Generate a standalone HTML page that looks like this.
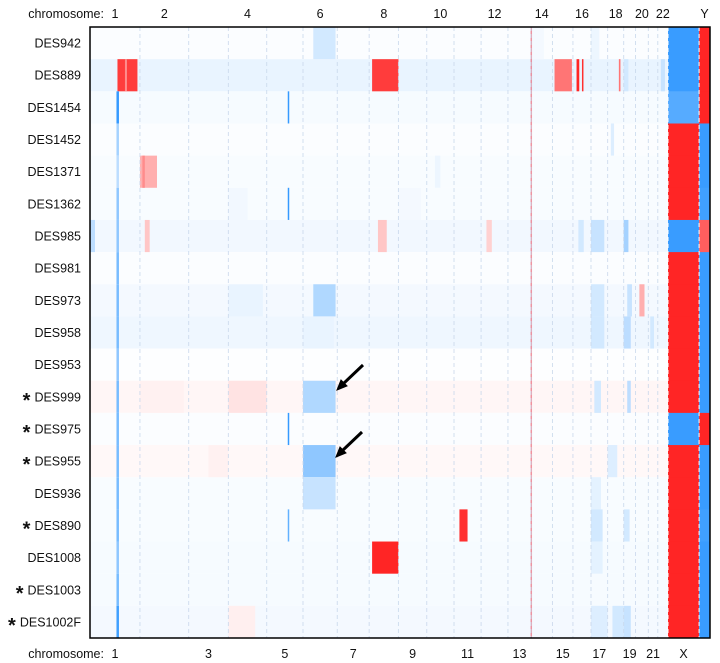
<!DOCTYPE html>
<html><head><meta charset="utf-8">
<style>
body{margin:0;background:#fff;}
svg{display:block;font-family:"Liberation Sans",sans-serif;}
</style></head>
<body>
<svg id="chart" width="720" height="663" viewBox="0 0 720 663" xmlns="http://www.w3.org/2000/svg">
<g id="cells"></g>
<g id="grid"></g>
<g id="labels"></g>
<g id="chrlabels"></g>
<rect x="90" y="27" width="620" height="611" fill="none" stroke="#000" stroke-width="1.5"/>
<g stroke="#000" stroke-width="3" fill="#000">
<line x1="363" y1="365" x2="343" y2="384"/><polygon points="337,390 347,386 341,380" stroke-width="1"/>
</g>
<g stroke="#000" stroke-width="3" fill="#000">
<line x1="362" y1="432" x2="342" y2="451"/><polygon points="336,457 346,453 340,447" stroke-width="1"/>
</g>
</svg>
<script>
const chromNames=["1","2","3","4","5","6","7","8","9","10","11","12","13","14","15","16","17","18","19","20","21","22","X","Y"];
const chromLengths=[249,243,198,191,181,171,159,146,141,136,135,134,115,107,102,90,83,80,59,64,47,51,155,59];
const samples=["DES942","DES889","DES1454","DES1452","DES1371","DES1362","DES985","DES981","DES973","DES958","DES953","DES999","DES975","DES955","DES936","DES890","DES1008","DES1003","DES1002F"];
const starred=[0,0,0,0,0,0,0,0,0,0,0,1,1,1,0,1,0,1,1];
const sexX=[-0.88,-0.88,-0.8,0.95,0.95,0.95,-0.88,0.95,0.95,0.95,0.95,0.95,-0.88,0.95,0.95,0.95,0.95,0.95,0.95];
const sexY=[0.95,0.95,0.95,-0.88,-0.88,-0.85,0.7,-0.88,-0.88,-0.88,-0.88,-0.88,0.95,-0.88,-0.88,-0.85,-0.88,-0.88,-0.88];
const background=[-0.02,-0.1,-0.04,-0.02,-0.03,-0.03,-0.06,-0.02,-0.05,-0.07,-0.01,0.04,-0.02,0.03,-0.03,-0.03,-0.04,-0.04,-0.05];
// events: [sample, chromIndex, startFrac, endFrac, value]
const events=[
[0,5,0.3,0.95,-0.2],[0,13,0.0,0.6,-0.05],[0,16,0.0,0.5,-0.08],
[1,0,0.55,0.95,0.85],[1,0,0.7,0.74,0.5],[1,7,0.1,1,0.85],[1,14,0.1,0.95,0.6],[1,15,0.2,0.35,0.95],[1,15,0.5,0.55,0.9],[1,17,0.7,0.8,0.6],[1,21,0.3,0.7,-0.25],[1,18,0.0,0.4,-0.2],
[2,0,0.53,0.58,-0.9],[2,4,0.58,0.62,-0.9],[2,22,0,1,-0.75],
[3,0,0.53,0.58,-0.4],[3,17,0.2,0.4,-0.15],
[4,0,0.53,0.58,-0.3],[4,1,0.0,0.35,0.35],[4,1,0.05,0.1,0.5],[4,9,0.3,0.5,-0.08],
[5,0,0.53,0.58,-0.5],[5,4,0.58,0.62,-0.9],[5,3,0.0,0.5,-0.06],[5,8,0.0,0.8,-0.05],
[6,0,0.53,0.58,-0.5],[6,7,0.3,0.6,0.25],[6,18,0.0,0.4,-0.4],[6,1,0.1,0.2,0.25],[6,16,0.0,0.8,-0.25],[6,15,0.3,0.6,-0.2],[6,0,0.0,0.1,-0.3],[6,11,0.2,0.4,0.2],
[7,0,0.53,0.58,-0.6],
[8,0,0.53,0.58,-0.6],[8,5,0.3,0.95,-0.35],[8,19,0.3,0.7,0.35],[8,3,0.0,0.9,-0.1],[8,16,0.0,0.8,-0.2],[8,18,0.3,0.7,-0.25],
[9,0,0.53,0.58,-0.6],[9,5,0.0,0.9,-0.1],[9,16,0.0,0.8,-0.2],[9,18,0.0,0.6,-0.3],[9,20,0.2,0.6,-0.2],
[10,0,0.53,0.58,-0.5],
[11,0,0.53,0.58,-0.6],[11,3,0.0,1,0.12],[11,5,0.0,0.95,-0.35],[11,1,0.0,0.9,0.06],[11,16,0.2,0.6,-0.2],[11,18,0.3,0.6,-0.3],
[12,0,0.53,0.58,-0.6],[12,4,0.58,0.62,-0.9],
[13,0,0.53,0.58,-0.6],[13,5,0.0,0.95,-0.5],[13,2,0.5,1,0.06],[13,17,0.0,0.6,-0.15],
[14,0,0.53,0.58,-0.6],[14,5,0.0,0.95,-0.25],[14,16,0.0,0.6,-0.12],
[15,0,0.53,0.58,-0.6],[15,4,0.58,0.62,-0.7],[15,10,0.2,0.5,0.9],[15,16,0.0,0.7,-0.2],[15,18,0.0,0.5,-0.2],
[16,0,0.53,0.58,-0.5],[16,7,0.1,1,0.95],[16,16,0.0,0.7,-0.12],
[17,0,0.53,0.58,-0.6],[17,3,0.0,0.9,-0.04],
[18,0,0.53,0.58,-0.85],[18,16,0.0,1,-0.15],[18,17,0.3,1,-0.2],[18,3,0,0.7,0.07],[18,18,0.0,0.6,-0.25]
];
const topTicks=["1","2","4","6","8","10","12","14","16","18","20","22","Y"];
const bottomTicks=["1","3","5","7","9","11","13","15","17","19","21","X"];

const X0=90,Y0=27,W=620,H=611;
const autoLen=chromLengths.slice(0,22).reduce((a,b)=>a+b,0);
const autoW=578;
const pxPerMb=autoW/autoLen;
const starts=[];let acc=X0;
chromLengths.forEach((l,i)=>{starts.push(acc);acc+=l*pxPerMb;});
const xEnd=X0+W;
function chromX(i,f){const s=starts[i];const e=i<23?starts[i+1]:xEnd;return s+(Math.min(e,xEnd)-s)*f;}
const rowH=H/samples.length;
function rowY(r){return Y0+r*rowH;}
function color(v){
  v=Math.max(-1,Math.min(1,v));
  if(v>=0){const t=v;return `rgb(255,${Math.round(255-230*t)},${Math.round(255-230*t)})`;}
  const t=-v;return `rgb(${Math.round(255-225*t)},${Math.round(255-112*t)},255)`;
}
const NS="http://www.w3.org/2000/svg";
function mk(tag,attrs,parent){const e=document.createElementNS(NS,tag);for(const k in attrs)e.setAttribute(k,attrs[k]);parent.appendChild(e);return e;}
const cells=document.getElementById('cells');
samples.forEach((s,r)=>{
  const bg=mk('rect',{x:X0,y:rowY(r),width:starts[22]-X0,height:rowH,fill:color(background[r])},cells);
  
  
  const xr=mk('rect',{x:starts[22],y:rowY(r),width:starts[23]-starts[22],height:rowH+0.5,fill:color(sexX[r])},cells);
  
  
  const yr=mk('rect',{x:starts[23],y:rowY(r),width:xEnd-starts[23],height:rowH+0.5,fill:color(sexY[r])},cells);
  
  
});
events.forEach(ev=>{
  const [r,c,a,b,v]=ev;
  const x1=chromX(c,a),x2=chromX(c,b);
  const e=mk('rect',{x:x1,y:rowY(r),width:Math.max(1.5,x2-x1),height:rowH,fill:color(v)},cells);
  
  
});
const ln=mk('rect',{x:starts[13]-0.5,y:Y0,width:1.5,height:H,fill:"rgba(230,80,100,0.6)"},cells);


const grid=document.getElementById('grid');
for(let i=1;i<24;i++){
  const g=mk('line',{x1:starts[i],x2:starts[i],y1:Y0,y2:Y0+H,stroke:i>=22?"#fff":"rgba(200,215,235,0.8)","stroke-width":1,"stroke-dasharray":"4,3"},grid);
  
  
}
const labels=document.getElementById('labels');
samples.forEach((s,r)=>{
  const t=mk('text',{x:81,y:rowY(r)+rowH/2+4.5,"text-anchor":"end","font-size":"12.5",fill:"#111"},labels);
  t.textContent=s;
  
  
  if(starred[r]){
    const w=t.getComputedTextLength();
    const a=mk('text',{x:81-w-4,y:rowY(r)+rowH/2+10,"text-anchor":"end","font-size":"20","font-weight":"bold",fill:"#111"},labels);
    a.textContent="*";
    
    
  }
});
const cl=document.getElementById('chrlabels');
function mid(name){const i=chromNames.indexOf(name);const e=i<23?starts[i+1]:xEnd;return (starts[i]+e)/2;}
[["top",14,topTicks],["bottom",654,bottomTicks]].forEach(([pos,y,ticks])=>{
  const h=mk('text',{x:104,y:y+4,"text-anchor":"end","font-size":"12.5",fill:"#111"},cl);
  h.textContent="chromosome:";
  
  
  ticks.forEach(n=>{
    const t=mk('text',{x:mid(n),y:y+4,"text-anchor":"middle","font-size":"12.5",fill:"#111"},cl);
    t.textContent=n;
    
    
  });
});
</script>
</body></html>
